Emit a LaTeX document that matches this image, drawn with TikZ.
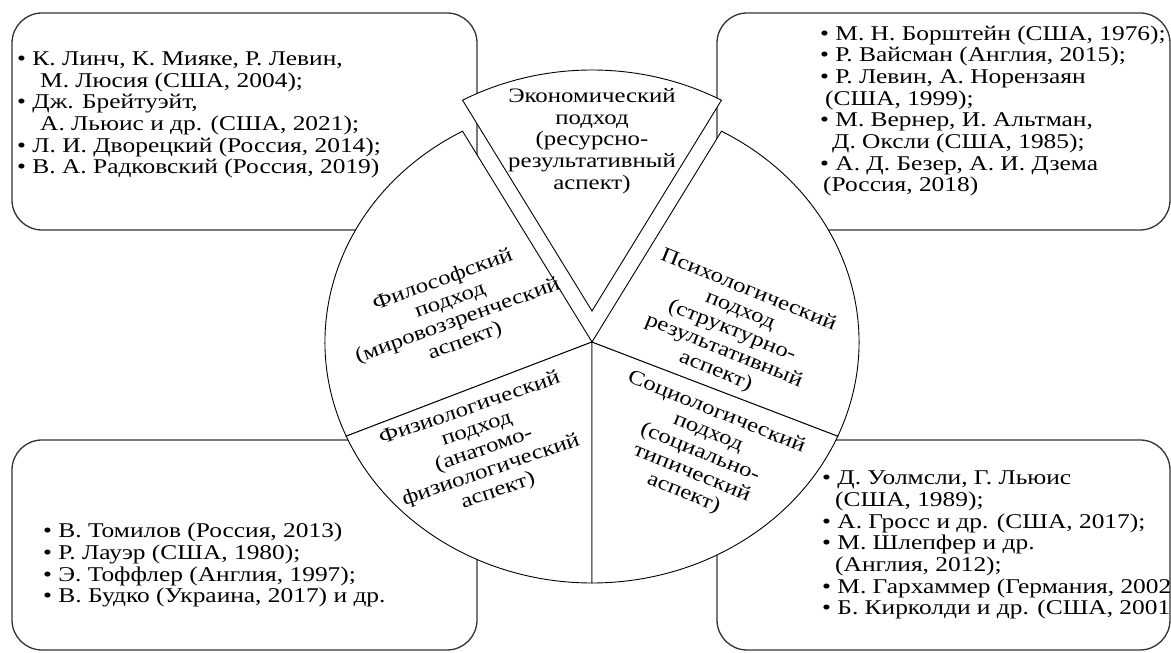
\documentclass[tikz,border=0pt]{standalone}
\usepackage{fontspec}
\setmainfont{Liberation Serif}[FakeStretch=1.21]
\tikzset{
  box/.style={draw=black!80, line width=1.3pt, rounded corners=30pt, fill=white},
  slice/.style={draw=black, line width=0.9pt, fill=white, line join=miter},
  lbl/.style={align=center, inner sep=0pt, font=\fontsize{20.5}{21.8}\selectfont},
  list/.style={align=left, inner sep=0pt, anchor=base west, font=\fontsize{21}{21.7}\selectfont}
}
\begin{document}
\begin{tikzpicture}[x=1pt,y=1pt]
\useasboundingbox (0,0) rectangle (1171,653);
% boxes
\draw[box] (12,423) rectangle (477,640);
\draw[box] (717,423) rectangle (1170,640);
\draw[box] (12,3) rectangle (477,213);
\draw[box] (717,3) rectangle (1170,213);
% pie
\begin{scope}[shift={(592,311)}, xscale=1.108]
  \draw[slice] (0,0) -- (119:241) arc[start angle=119, end angle=203, radius=241] -- cycle;
  \draw[slice] (0,0) -- (203:241) arc[start angle=203, end angle=270, radius=241] -- cycle;
  \draw[slice] (0,0) -- (270:241) arc[start angle=270, end angle=337, radius=241] -- cycle;
  \draw[slice] (0,0) -- (-23:241) arc[start angle=-23, end angle=61, radius=241] -- cycle;
  \begin{scope}[yshift=31]
    \draw[slice] (0,0) -- (61:241) arc[start angle=61, end angle=119, radius=241] -- cycle;
  \end{scope}
\end{scope}
% slice labels
\node[lbl] (econ) at (592,512) {Экономический\\подход\\(ресурсно-\\результативный\\аспект)};
\node[lbl, rotate=20] (phil) at (454,342) {Философский\\подход\\(мировоззренческий\\аспект)};
\node[lbl, rotate=-22] (psych) at (732,322) {Психологический\\подход\\(структурно-\\результативный\\аспект)};
\node[lbl, rotate=19] (physio) at (484,203) {Физиологический\\подход\\(анатомо-\\физиологический\\аспект)};
\node[lbl, rotate=-22] (socio) at (700,200) {Социологический\\подход\\(социально-\\типический\\аспект)};
% lists (anchor = baseline of last line)
\node[list] (tl) at (17,479) {• К. Линч, К. Мияке, Р. Левин,\\\hspace*{23pt}М. Люсия (США, 2004);\\• Дж. Брейтуэйт,\\\hspace*{23pt}А. Льюис и др. (США, 2021);\\• Л. И. Дворецкий (Россия, 2014);\\• В. А. Радковский (Россия, 2019)};
\node[list] (tr) at (820,461) {• М. Н. Борштейн (США, 1976);\\• Р. Вайсман (Англия, 2015);\\• Р. Левин, А. Норензаян\\\hspace*{5pt}(США, 1999);\\• М. Вернер, И. Альтман,\\\hspace*{12pt}Д. Оксли (США, 1985);\\• А. Д. Безер, А. И. Дзема\\\hspace*{3pt}(Россия, 2018)};
\node[list] (bl) at (43,50) {• В. Томилов (Россия, 2013)\\• Р. Лауэр (США, 1980);\\• Э. Тоффлер (Англия, 1997);\\• В. Будко (Украина, 2017) и др.};
\node[list] (br) at (822,38) {• Д. Уолмсли, Г. Льюис\\\hspace*{13pt}(США, 1989);\\• А. Гросс и др. (США, 2017);\\• М. Шлепфер и др.\\\hspace*{13pt}(Англия, 2012);\\• М. Гархаммер (Германия, 2002)\\• Б. Кирколди и др. (США, 2001)};
\end{tikzpicture}
\end{document}
